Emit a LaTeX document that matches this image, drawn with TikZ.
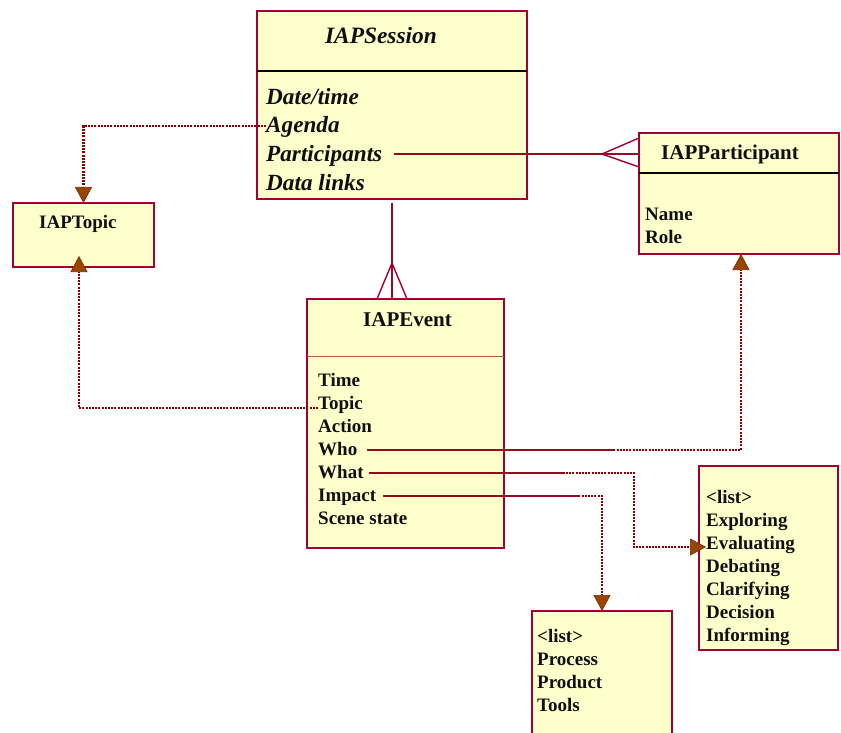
\documentclass[tikz,border=0pt]{standalone}
\usepackage{fontspec}
\setmainfont{Liberation Serif}
\usetikzlibrary{arrows.meta}
\definecolor{bordc}{RGB}{160,0,50}
\definecolor{linec}{RGB}{150,10,30}
\definecolor{dotc}{RGB}{140,0,0}
\definecolor{tipc}{RGB}{153,68,0}
\definecolor{tipdark}{RGB}{120,40,0}
\definecolor{boxfill}{RGB}{255,255,204}
\definecolor{txtc}{RGB}{15,15,15}
\definecolor{evdiv}{RGB}{180,90,70}
\begin{document}
\begin{tikzpicture}[x=1pt,y=-1pt,
  box/.style={draw=bordc, fill=boxfill, line width=1.8pt, inner sep=0pt, outer sep=0pt, anchor=north west},
  txt/.style={anchor=base west, inner sep=0pt, text=txtc, font=\bfseries\fontsize{19}{23}\selectfont},
  ttl/.style={anchor=base west, inner sep=0pt, text=txtc, font=\bfseries\fontsize{21}{25}\selectfont},
  itxt/.style={anchor=base west, inner sep=0pt, text=txtc, font=\bfseries\itshape\fontsize{23.2}{28}\selectfont},
  divider/.style={draw=black, line width=1.5pt},
  solidline/.style={draw=linec, line width=1.4pt},
  crow/.style={draw=bordc, line width=1.4pt},
  dotline/.style={draw=dotc, line width=2.4pt, dash pattern=on 2pt off 1.2pt},
  tip/.style={-{Triangle[length=16pt, width=17pt, fill=tipc, color=tipdark, line width=0.6pt]}}
]
\useasboundingbox (0,0) rectangle (841,733);
\clip (0,0) rectangle (841,733);

% boxes
\node[box, minimum width=270pt, minimum height=188pt] (session) at (257,11) {};
\node[box, minimum width=141pt, minimum height=64pt] (topic) at (13,203) {};
\node[box, minimum width=200pt, minimum height=121pt] (participant) at (639,133) {};
\node[box, minimum width=197pt, minimum height=249pt] (event) at (307,299) {};
\node[box, minimum width=139pt, minimum height=184pt] (whatlist) at (699,466) {};
\node[box, minimum width=140pt, minimum height=150pt] (impactlist) at (532,611) {};

% dividers
\draw[divider] ([yshift=-60pt]session.north west) -- ([yshift=-60pt]session.north east);
\draw[divider] ([yshift=-40pt]participant.north west) -- ([yshift=-40pt]participant.north east);
\draw[draw=evdiv, line width=1pt] ([yshift=-57pt]event.north west) -- ([yshift=-57pt]event.north east);

% IAPSession
\node[anchor=base, inner sep=0pt, text=txtc, font=\bfseries\itshape\fontsize{23.4}{28}\selectfont] (sesst) at (381,44) {IAPSession};
\node[itxt] (sdate) at (266,105) {Date/time};
\node[itxt] (sagenda) at (266,133) {Agenda};
\node[itxt] (sparts) at (266,161) {Participants};
\node[itxt] (sdata) at (266,190) {Data links};

% IAPTopic
\node[txt] (topict) at (39,228) {IAPTopic};

% IAPParticipant
\node[ttl] (partt) at (661,160) {IAPParticipant};
\node[txt] (pname) at (645,220) {Name};
\node[txt] (prole) at (645,243) {Role};

% IAPEvent
\node[ttl] (eventt) at (363,326) {IAPEvent};
\node[txt] (etime) at (318,386) {Time};
\node[txt] (etopic) at (318,409) {Topic};
\node[txt] (eaction) at (318,432) {Action};
\node[txt] (ewho) at (318,455) {Who};
\node[txt] (ewhat) at (318,478) {What};
\node[txt] (eimpact) at (318,501) {Impact};
\node[txt] (escene) at (318,524) {Scene state};

% right list
\node[txt] (wl0) at (706,503) {<list>};
\node[txt] (wl1) at (706,526) {Exploring};
\node[txt] (wl2) at (706,549) {Evaluating};
\node[txt] (wl3) at (706,572) {Debating};
\node[txt] (wl4) at (706,595) {Clarifying};
\node[txt] (wl5) at (706,618) {Decision};
\node[txt] (wl6) at (706,641) {Informing};

% bottom list
\node[txt] (il0) at (537,642) {<list>};
\node[txt] (il1) at (537,665) {Process};
\node[txt] (il2) at (537,688) {Product};
\node[txt] (il3) at (537,711) {Tools};

% Agenda -> IAPTopic
\draw[dotline, tip] ([yshift=7pt]sagenda.base west) -| (topic.north);

% Participants -- IAPParticipant (crow's foot)
\coordinate (p1) at ([shift={(12pt,7pt)}]sparts.base east);
\draw[solidline] (p1) -- (p1 -| participant.west);
\draw[crow] (p1 -| participant.west) ++(-37,0) coordinate (papex) -- ++(37,-16)
  (papex) -- ++(37,13) (papex) -- (p1 -| participant.west);

% IAPSession -- IAPEvent (crow's foot)
\coordinate (s1) at ([yshift=-4pt]session.south);
\draw[solidline] (s1) -- (s1 |- event.north);
\draw[crow] (s1 |- event.north) ++(0,-36) coordinate (eapex) -- ++(-15,36)
  (eapex) -- ++(15,36);

% Topic -> IAPTopic
\draw[dotline, tip] ([yshift=1pt]etopic.base west) -| ([shift={(-4.5pt,11pt)}]topic.south);

% Who -> IAPParticipant
\coordinate (w0) at ([shift={(10pt,5pt)}]ewho.base east);
\path (w0) -- ++(246,0) coordinate (w1);
\draw[solidline] (w0) -- (w1);
\draw[dotline, tip] (w1) -| ([xshift=2pt]participant.south);

% What -> list
\coordinate (h0) at ([shift={(5pt,5pt)}]ewhat.base east);
\path (h0) -- ++(194,0) coordinate (h1);
\draw[solidline] (h0) -- (h1);
\draw[dotline, tip] (h1) -- ++(71,0) |- ([shift={(7pt,11pt)}]whatlist.west);

% Impact -> list
\coordinate (i0) at ([shift={(7pt,5pt)}]eimpact.base east);
\path (i0) -- ++(195,0) coordinate (i1);
\draw[solidline] (i0) -- (i1);
\draw[dotline, tip] (i1) -| (impactlist.north);
\end{tikzpicture}
\end{document}
